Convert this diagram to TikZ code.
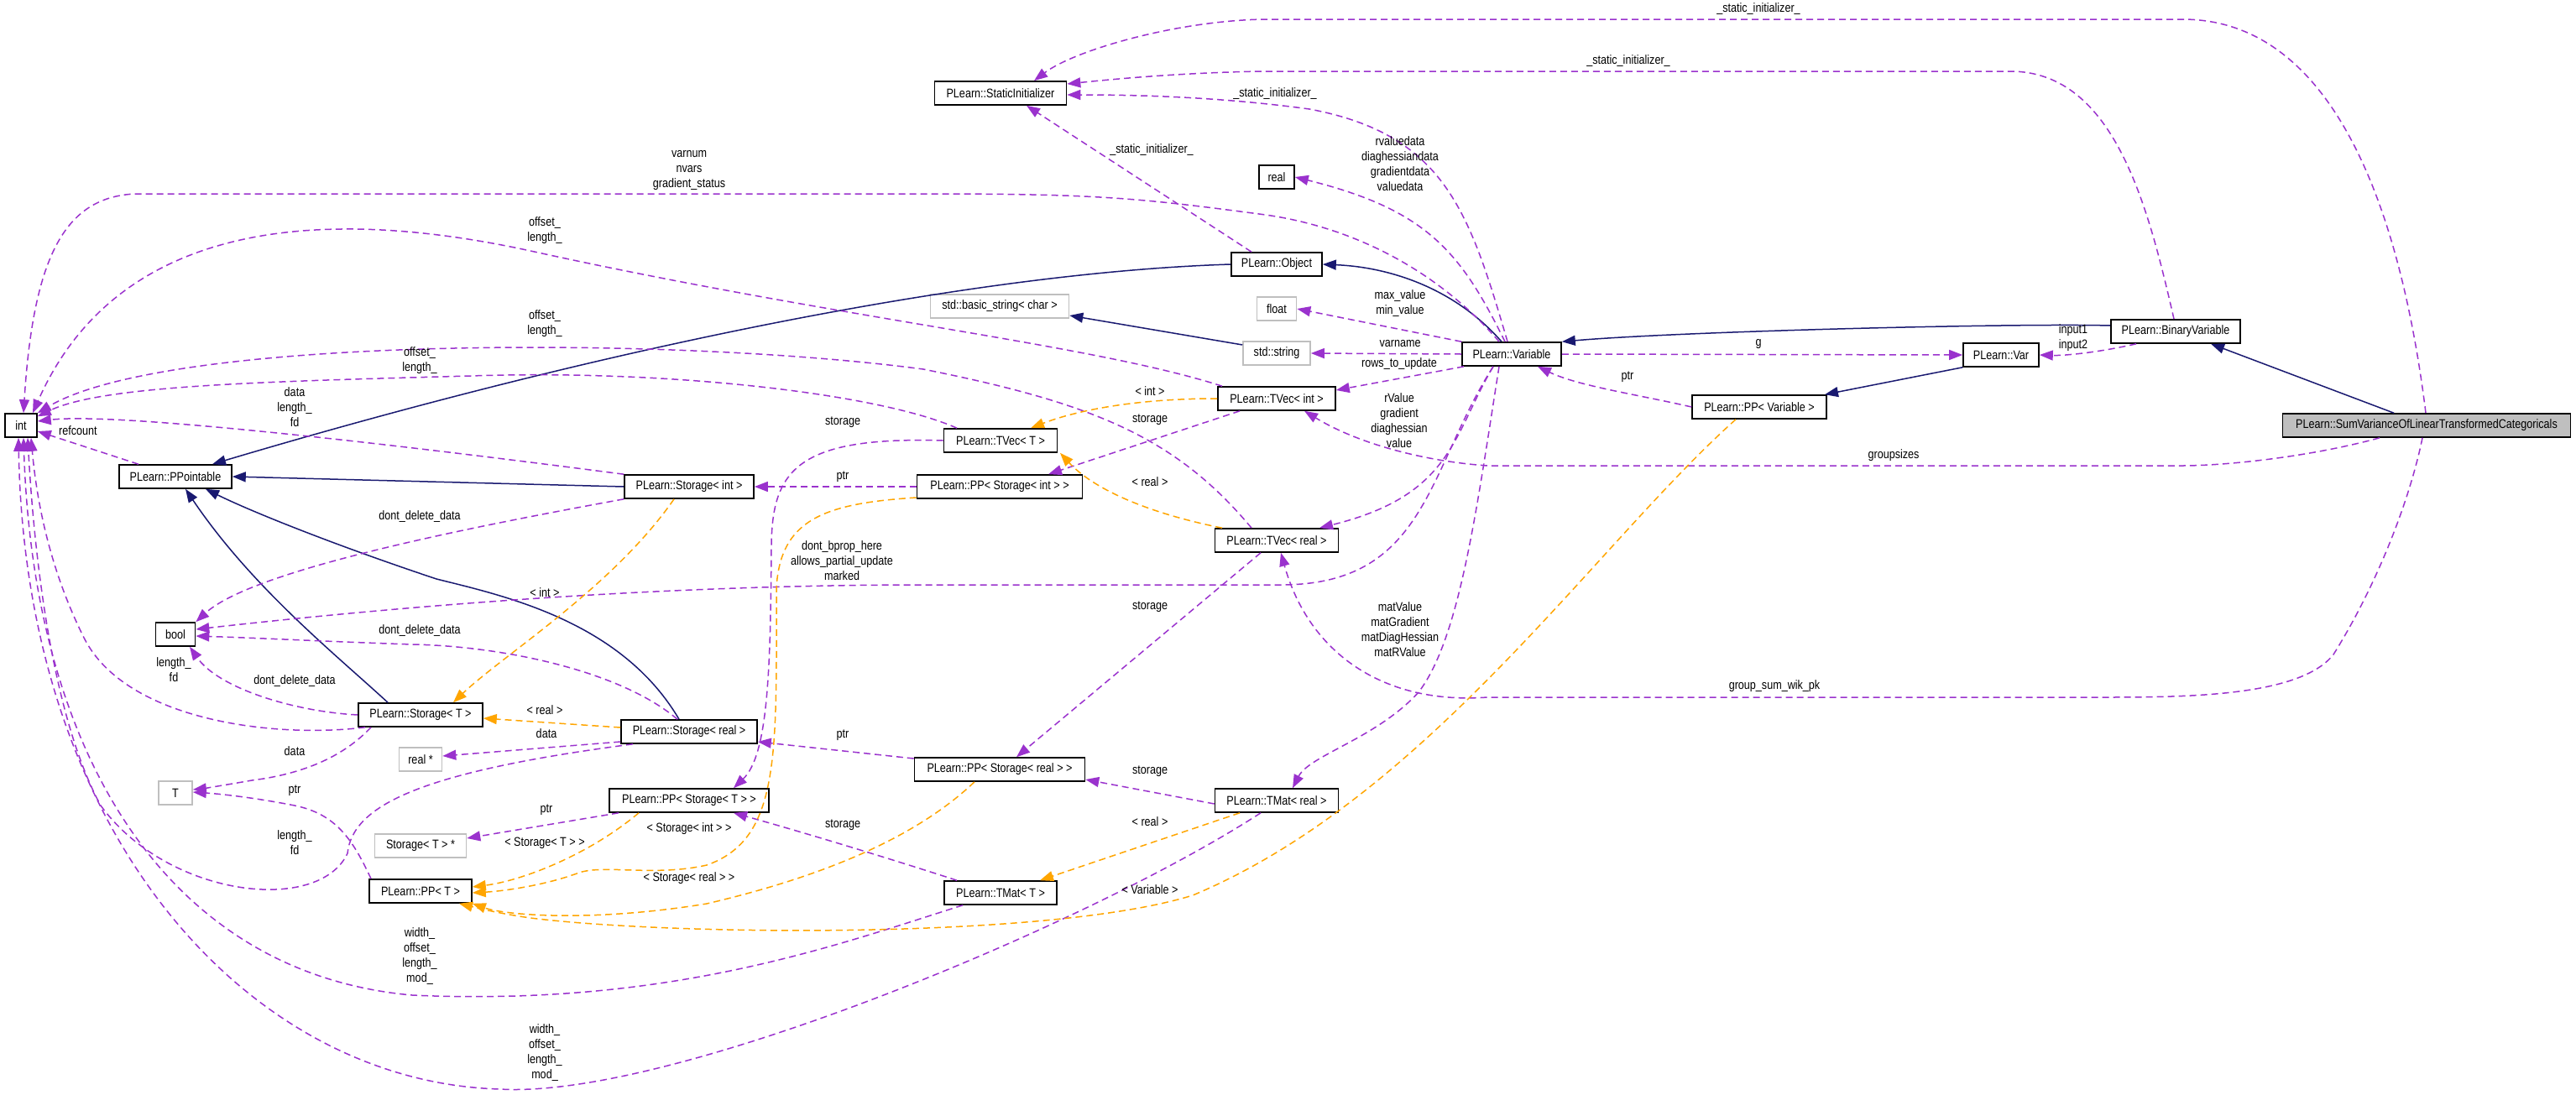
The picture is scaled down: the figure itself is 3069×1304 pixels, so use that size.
\documentclass[tikz,border=0pt]{standalone}
\usepackage{fontspec}
\setmainfont{Liberation Sans}[FakeStretch=0.84]
\usetikzlibrary{arrows.meta}
\definecolor{purp}{HTML}{9A32CD}
\definecolor{orng}{HTML}{FFA500}
\definecolor{navy}{HTML}{191970}
\definecolor{gbox}{HTML}{BFBFBF}
\tikzset{
 cls/.style={draw=black,line width=1.6pt,minimum height=28pt,inner sep=0pt,font=\fontsize{15}{17}\selectfont},
 ext/.style={cls,draw=gbox},
 lbl/.style={font=\fontsize{15}{18}\selectfont,align=center,inner sep=0pt},
 tip/.style={-{Triangle[length=16pt,width=12pt]}},
 use/.style={draw=purp,line width=1.5pt,dash pattern=on 8pt off 5pt,tip},
 tmpl/.style={draw=orng,line width=1.5pt,dash pattern=on 8pt off 5pt,tip},
 inh/.style={draw=navy,line width=1.5pt,tip}
}
\begin{document}
\begin{tikzpicture}[x=1pt,y=-1pt]
\useasboundingbox (0,0) rectangle (3069,1304);
\node[cls,minimum width=157pt] (si) at (1192,111) {PLearn::StaticInitializer};
\node[cls,minimum width=42pt] (real) at (1521,211) {real};
\node[cls,minimum width=108pt] (obj) at (1521,315) {PLearn::Object};
\node[ext,minimum width=165pt] (bstr) at (1191,365) {std::basic\_string< char >};
\node[ext,minimum width=47pt] (flt) at (1521,368) {float};
\node[ext,minimum width=80pt] (str) at (1521,421) {std::string};
\node[cls,minimum width=118pt] (var) at (1801,422) {PLearn::Variable};
\node[cls,minimum width=140pt] (tvi) at (1521,475) {PLearn::TVec< int >};
\node[cls,minimum width=135pt] (tvt) at (1192,525) {PLearn::TVec< T >};
\node[cls,minimum width=197pt] (ppsi) at (1191,580) {PLearn::PP< Storage< int > >};
\node[cls,minimum width=147pt] (tvr) at (1521,644) {PLearn::TVec< real >};
\node[cls,minimum width=154pt] (bin) at (2592,395) {PLearn::BinaryVariable};
\node[cls,minimum width=90pt] (vv) at (2384,423) {PLearn::Var};
\node[cls,minimum width=160pt] (ppv) at (2096,485) {PLearn::PP< Variable >};
\node[cls,minimum width=343pt,fill=gbox] (sum) at (2891,507) {PLearn::SumVarianceOfLinearTransformedCategoricals};
\node[cls,minimum width=38pt] (int) at (25,507) {int};
\node[cls,minimum width=134pt] (ppt) at (209,568) {PLearn::PPointable};
\node[cls,minimum width=154pt] (sti) at (821,580) {PLearn::Storage< int >};
\node[cls,minimum width=47pt] (bool) at (209,756) {bool};
\node[cls,minimum width=148pt] (stt) at (501,852) {PLearn::Storage< T >};
\node[cls,minimum width=162pt] (strl) at (821,872) {PLearn::Storage< real >};
\node[ext,minimum width=51pt] (realp) at (501,905) {real *};
\node[ext,minimum width=40pt] (tt) at (209,945) {T};
\node[cls,minimum width=190pt] (ppst) at (821,954) {PLearn::PP< Storage< T > >};
\node[ext,minimum width=109pt] (stp) at (501,1008) {Storage< T > *};
\node[cls,minimum width=122pt] (ppT) at (501,1062) {PLearn::PP< T >};
\node[cls,minimum width=203pt] (ppsr) at (1191,917) {PLearn::PP< Storage< real > >};
\node[cls,minimum width=147pt] (tmr) at (1521,954) {PLearn::TMat< real >};
\node[cls,minimum width=134pt] (tmt) at (1192,1064) {PLearn::TMat< T >};
% inheritance
\draw[inh] (obj.west) .. controls (1150,325) and (700,420) .. ([xshift=44pt]ppt.north);
\draw[inh] ([xshift=-12pt]var.north) .. controls (1730,340) and (1650,318) .. (obj.east);
\draw[inh] ([yshift=10pt]str.west) -- ([yshift=-11pt]bstr.east);
\draw[inh] ([yshift=7pt]bin.west) .. controls (2400,385) and (2000,395) .. (var.north east);
\draw[inh] ([xshift=-39pt]sum.north) -- ([xshift=42pt]bin.south);
\draw[inh] (vv.south west) -- ([xshift=78pt]ppv.north);
\draw[inh] (sti.west) -- (ppt.east);
\draw[inh] ([xshift=-39pt]stt.north) .. controls (400,780) and (300,700) .. ([xshift=12pt]ppt.south);
\draw[inh] ([xshift=-12pt]strl.north) .. controls (740,740) and (600,710) .. (520,690) .. controls (400,650) and (300,610) .. ([xshift=36pt]ppt.south);
% usage
\draw[use] ([xshift=-5pt]var.north) .. controls (1750,250) and (1720,160) .. (1560,130) .. controls (1450,115) and (1350,113) .. ([yshift=-2pt]si.east);
\node[lbl] (l1) at (1519,112) {\_static\_initializer\_};
\draw[use] ([xshift=-30pt]obj.north) -- ([xshift=31pt]si.south);
\node[lbl] (l2) at (1372,179) {\_static\_initializer\_};
\draw[use] ([xshift=-2pt]bin.north) .. controls (2560,250) and (2520,85) .. (2395,85) -- (1500,85) .. controls (1400,87) and (1320,95) .. ([yshift=11pt]si.east);
\node[lbl] (l3) at (1940,73) {\_static\_initializer\_};
\draw[use] ([xshift=-1pt]sum.north) .. controls (2860,250) and (2780,23) .. (2600,23) -- (1505,23) .. controls (1400,25) and (1280,60) .. ([xshift=40pt]si.north);
\node[lbl] (l4) at (2095,11) {\_static\_initializer\_};
\draw[use] ([xshift=-15pt]var.north) .. controls (1720,330) and (1620,270) .. (1500,255) .. controls (1350,235) and (1300,231) .. (1100,231) -- (161,231) .. controls (80,235) and (40,300) .. ([xshift=3pt]int.north);
\node[lbl] (l5) at (821,203) {varnum\\nvars\\gradient\_status};
\draw[use] ([xshift=-65pt]tvi.north) .. controls (1300,410) and (1000,380) .. (632,299) .. controls (430,255) and (150,240) .. ([xshift=14pt]int.north);
\node[lbl] (l6) at (649,275) {offset\_\\length\_};
\draw[use] ([xshift=-30pt]tvr.north) .. controls (1400,520) and (1300,480) .. (1100,440) .. controls (800,400) and (200,400) .. (int.north east);
\node[lbl] (l7) at (649,386) {offset\_\\length\_};
\draw[use] ([xshift=-52pt]tvt.north) .. controls (1050,470) and (800,440) .. (561,448) .. controls (300,455) and (120,460) .. ([yshift=-4pt]int.north east);
\node[lbl] (l8) at (500,430) {offset\_\\length\_};
\draw[use] (sti.north west) .. controls (550,540) and (150,490) .. ([yshift=5pt]int.east);
\node[lbl] (l9) at (351,485) {data\\length\_\\fd};
\draw[use] ([xshift=-44pt]ppt.north) -- ([yshift=-7pt]int.east);
\node[lbl,anchor=west] (l10) at (70,513) {refcount};
\draw[use] ([xshift=-66pt]stt.south) .. controls (330,880) and (150,860) .. (100,760) .. controls (60,680) and (44,600) .. ([xshift=12pt]int.south);
\node[lbl] (l11) at (207,798) {length\_\\fd};
\draw[use] ([xshift=-67pt]strl.south) .. controls (500,920) and (420,960) .. (414,1017) .. controls (380,1090) and (200,1070) .. (120,960) .. controls (60,850) and (40,650) .. ([xshift=8pt]int.south);
\node[lbl] (l12) at (351,1004) {length\_\\fd};
\draw[use] ([xshift=-45pt]tmt.south) .. controls (1000,1125) and (800,1200) .. (491,1186) .. controls (200,1160) and (40,900) .. ([xshift=3pt]int.south);
\node[lbl] (l13) at (500,1140) {width\_\\offset\_\\length\_\\mod\_};
\draw[use] ([xshift=-19pt]tmr.south) .. controls (1300,1100) and (800,1310) .. (596,1298) .. controls (300,1290) and (30,1000) .. ([xshift=-3pt]int.south);
\node[lbl] (l14) at (649,1255) {width\_\\offset\_\\length\_\\mod\_};
\draw[use] (sti.south west) .. controls (550,630) and (300,680) .. (bool.north east);
\node[lbl] (l15) at (500,616) {dont\_delete\_data};
\draw[use] ([xshift=-22pt]var.south) .. controls (1700,560) and (1700,697) .. (1526,697) -- (1100,697) .. controls (800,697) and (500,720) .. ([yshift=6pt]bool.east);
\node[lbl] (l16) at (1003,668) {dont\_bprop\_here\\allows\_partial\_update\\marked};
\node[lbl] (l16b) at (649,706) {< int >};
\draw[use] ([xshift=-14pt]strl.north) .. controls (740,800) and (600,770) .. (491,768) .. controls (400,765) and (300,760) .. ([yshift=-2pt]bool.east);
\node[lbl] (l17) at (500,752) {dont\_delete\_data};
\draw[use] (stt.west) .. controls (350,848) and (260,820) .. ([xshift=17pt]bool.south);
\node[lbl] (l18) at (351,812) {dont\_delete\_data};
\draw[use] ([xshift=-44pt]tvi.south) -- ([xshift=58pt]ppsi.north);
\node[lbl] (l19) at (1370,500) {storage};
\draw[use] ([xshift=-57pt]var.south) -- ([yshift=10pt]tvi.east);
\node[lbl] (l20) at (1667,434) {rows\_to\_update};
\draw[use] (var.west) -- (str.east);
\node[lbl] (l21) at (1668,410) {varname};
\draw[use] (var.north west) -- (flt.east);
\node[lbl] (l22) at (1668,362) {max\_value\\min\_value};
\draw[use] ([xshift=-8pt]var.north) .. controls (1740,300) and (1700,250) .. (real.east);
\node[lbl] (l23) at (1668,195) {rvaluedata\\diaghessiandata\\gradientdata\\valuedata};
\draw[use] (var.east) -- (vv.west);
\node[lbl] (l24) at (2095,410) {g};
\draw[use] ([xshift=-47pt]bin.south) .. controls (2500,420) and (2460,424) .. (vv.east);
\node[lbl] (l25) at (2470,403) {input1\\input2};
\draw[use] (ppv.west) .. controls (1950,470) and (1880,460) .. ([xshift=31pt]var.south);
\node[lbl] (l26) at (1939,449) {ptr};
\draw[use] ([xshift=-56pt]sum.south) .. controls (2750,545) and (2650,555) .. (2600,555) -- (1772,555) .. controls (1700,550) and (1620,530) .. ([xshift=33pt]tvi.south);
\node[lbl] (l27) at (2256,543) {groupsizes};
\draw[use] ([xshift=-5pt]sum.south) .. controls (2870,600) and (2830,700) .. (2780,780) .. controls (2740,831) and (2600,831) .. (2500,831) -- (1772,831) .. controls (1650,840) and (1560,780) .. ([xshift=5pt]tvr.south);
\node[lbl] (l28) at (2114,818) {group\_sum\_wik\_pk};
\draw[use] ([xshift=-15pt]var.south) .. controls (1760,600) and (1740,760) .. (1690,825) .. controls (1640,880) and (1560,900) .. ([xshift=19pt]tmr.north);
\node[lbl] (l29) at (1668,750) {matValue\\matGradient\\matDiagHessian\\matRValue};
\draw[use] ([xshift=-22pt]var.south) .. controls (1730,520) and (1730,590) .. ([xshift=51pt]tvr.north);
\node[lbl] (l30) at (1667,501) {rValue\\gradient\\diaghessian\\value};
\draw[use] ([xshift=-19pt]tvr.south) -- ([xshift=20pt]ppsr.north);
\node[lbl] (l31) at (1370,723) {storage};
\draw[use] ([yshift=-4pt]tmr.west) -- ([yshift=-12pt]ppsr.east);
\node[lbl] (l32) at (1370,919) {storage};
\draw[use] (ppsi.west) -- (sti.east);
\node[lbl] (l33) at (1004,568) {ptr};
\draw[use] ([yshift=13pt]ppsr.west) -- ([yshift=-12pt]strl.east);
\node[lbl] (l34) at (1004,876) {ptr};
\draw[use] ([xshift=-84pt]ppst.south) -- ([yshift=9pt]stp.east);
\node[lbl] (l35) at (651,965) {ptr};
\draw[use] ([xshift=-59pt]ppT.north) .. controls (420,1000) and (400,970) .. (351,960) .. controls (300,950) and (260,946) .. ([yshift=1pt]tt.east);
\node[lbl] (l36) at (351,942) {ptr};
\draw[use] ([xshift=-59pt]stt.south) .. controls (420,890) and (380,920) .. (300,930) .. controls (260,937) and (240,940) .. ([yshift=4pt]tt.east);
\node[lbl] (l37) at (351,895) {data};
\draw[use] ([yshift=-12pt]strl.west) -- ([yshift=4pt]realp.east);
\node[lbl] (l38) at (651,874) {data};
\draw[use] ([xshift=-52pt]tmt.north) .. controls (1050,1020) and (950,990) .. ([xshift=53pt]ppst.south);
\node[lbl] (l39) at (1004,983) {storage};
\draw[use] (tvt.west) .. controls (950,520) and (920,560) .. (919,650) .. controls (918,800) and (915,900) .. ([xshift=53pt]ppst.north);
\node[lbl] (l40) at (1004,503) {storage};
% templates
\draw[tmpl] (tvi.west) .. controls (1350,475) and (1280,490) .. ([xshift=36pt]tvt.north);
\node[lbl] (l41) at (1370,466) {< int >};
\draw[tmpl] ([xshift=-65pt]tvr.north) .. controls (1360,610) and (1300,580) .. ([xshift=71pt]tvt.south);
\node[lbl] (l42) at (1370,574) {< real >};
\draw[tmpl] ([xshift=-18pt]sti.south) .. controls (730,700) and (600,780) .. ([xshift=39pt]stt.north);
\draw[tmpl] ([yshift=5pt]strl.west) -- ([yshift=-4pt]stt.east);
\node[lbl] (l43) at (649,846) {< real >};
\draw[tmpl] ([xshift=-60pt]ppst.south) .. controls (700,1020) and (620,1050) .. ([yshift=5pt]ppT.east);
\node[lbl] (l44) at (649,1005) {< Storage< T > >};
\draw[tmpl] ([yshift=-13pt]ppsi.west) .. controls (980,600) and (930,620) .. (925,700) .. controls (925,900) and (930,1000) .. (842,1031) .. controls (780,1045) and (720,1030) .. (690,1040) .. controls (650,1055) and (600,1062) .. ([yshift=-2pt]ppT.east);
\node[lbl] (l45) at (821,988) {< Storage< int > >};
\draw[tmpl] ([xshift=-30pt]ppsr.south) .. controls (1100,990) and (1000,1040) .. (842,1077) .. controls (700,1100) and (600,1090) .. (ppT.south east);
\node[lbl] (l46) at (821,1047) {< Storage< real > >};
\draw[tmpl] ([xshift=-28pt]ppv.south) .. controls (1900,650) and (1700,950) .. (1421,1067) .. controls (1250,1120) and (800,1115) .. (632,1094) .. controls (590,1088) and (560,1080) .. ([xshift=46pt]ppT.south);
\node[lbl] (l47) at (1370,1060) {< Variable >};
\draw[tmpl] ([xshift=-44pt]tmr.south) -- ([xshift=47pt]tmt.north);
\node[lbl] (l48) at (1370,979) {< real >};
\end{tikzpicture}
\end{document}
